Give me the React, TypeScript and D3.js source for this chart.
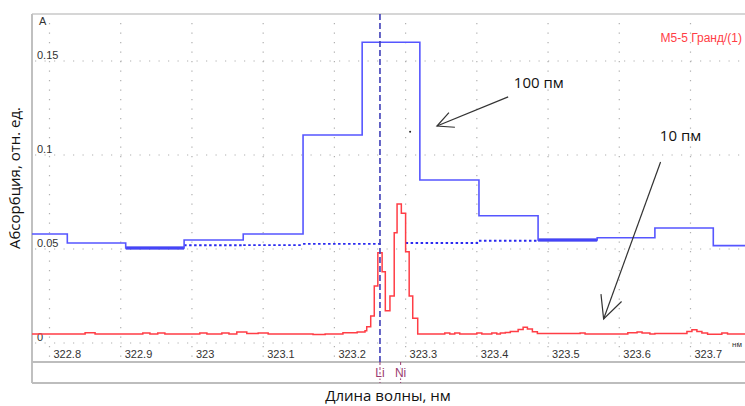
import * as d3 from "d3";

const W = 745;
const H = 406;
const frame = {left: 32, right: 745, top: 14, axis: 362, bottom: 383};

// оси
const xTicks = [322.8, 322.9, 323, 323.1, 323.2, 323.3, 323.4, 323.5, 323.6, 323.7];
const xTickLabels = ["322.8", "322.9", "323", "323.1", "323.2", "323.3", "323.4", "323.5", "323.6", "323.7"];
const yTicks = [0, 0.05, 0.1, 0.15];
const yTickLabels = ["0", "0.05", "0.1", "0.15"];

// 100 пм - широкие бины (границы и значения)
const wideEdges = [322.742, 322.825, 322.907, 322.989, 323.072, 323.156, 323.239, 323.320, 323.403, 323.486, 323.569, 323.650, 323.732, 323.815];
const wideValues = [0.058, 0.0532, 0.0505, 0.0548, 0.058, 0.1106, 0.160, 0.0867, 0.0677, 0.0548, 0.056, 0.0612, 0.0518];

// базовая линия (пунктир), null - разрыв
const baseEdges = [322.907, 322.989, 323.072, 323.156, 323.267, 323.300, 323.403, 323.486, 323.569];
const baseValues = [0.0505, 0.0520, 0.0521, 0.0527, null, 0.0532, 0.0544, 0.0548];

// 10 пм
const narrowNm = [322.775, 322.850, 322.864, 322.931, 322.941, 322.952, 322.962, 323.011, 323.021, 323.042, 323.052, 323.063, 323.077, 323.093, 323.107, 323.170, 323.187, 323.212, 323.232, 323.243, 323.2454, 323.251, 323.256, 323.261, 323.267, 323.2715, 323.278, 323.284, 323.288, 323.294, 323.300, 323.305, 323.310, 323.317, 323.355, 323.362, 323.369, 323.376, 323.400, 323.407, 323.421, 323.428, 323.433, 323.440, 323.447, 323.458, 323.465, 323.471, 323.478, 323.485, 323.545, 323.552, 323.612, 323.625, 323.632, 323.643, 323.650, 323.695, 323.702, 323.709, 323.716, 323.724, 323.744, 323.752, 323.790];
const narrowAbs = [0.0048, 0.0055, 0.0048, 0.0053, 0.0048, 0.0053, 0.0048, 0.0053, 0.0048, 0.0053, 0.0048, 0.0058, 0.0050, 0.0053, 0.0048, 0.0045, 0.0048, 0.0055, 0.0058, 0.0065, 0.0087, 0.0144, 0.0303, 0.0480, 0.0379, 0.0172, 0.0250, 0.0587, 0.0739, 0.0690, 0.0486, 0.0250, 0.0131, 0.0048, 0.0053, 0.0048, 0.0053, 0.0048, 0.0053, 0.0048, 0.0053, 0.0048, 0.0053, 0.0056, 0.0061, 0.0072, 0.0084, 0.0074, 0.0060, 0.0050, 0.0053, 0.0048, 0.0055, 0.0059, 0.0053, 0.0048, 0.0050, 0.0061, 0.0071, 0.0061, 0.0053, 0.0046, 0.0053, 0.0048, 0.0048];

// линии элементов
const lineNames = ["Li", "Ni"];
const lineNm = [323.264, 323.293];

// подписи со стрелками
const notes = [
    {text: "100 пм", at: [323.452, 0.1356], from: [323.444, 0.1309], to: [323.344, 0.1154], head: 18},
    {text: "10 пм", at: [323.657, 0.1074], from: [323.658, 0.0963], to: [323.578, 0.0128], head: 25},
];

const x = d3.scaleLinear().domain([322.8, 323.7]).range([49.5, 690.5]);
const y = d3.scaleLinear().domain([0, 0.15]).range([343, 61]);

const BLUE = "#5656ff";
const DARK_BLUE = "#2a2af0";
const RED = "#ff3d45";
const GRID = "#b0b0b0";
const TICK_FONT = "'Liberation Sans', Arial, sans-serif";
const TITLE_FONT = "'Open Sans', 'Noto Sans', sans-serif";

const stepLine = d3.line<[number, number]>()
    .x(d => x(d[0]))
    .y(d => y(d[1]))
    .curve(d3.curveStepAfter);

const widePoints: [number, number][] = wideValues.map((v, i) => [wideEdges[i], v] as [number, number])
    .concat([[wideEdges[wideEdges.length - 1], wideValues[wideValues.length - 1]]]);

const narrowPoints: [number, number][] = narrowNm.map((n, i) => [n, narrowAbs[i]] as [number, number]);

// значение широкой линии в точке
const wideAt = (nm: number) => {
    const i = d3.bisectRight(wideEdges, nm) - 1;
    return wideValues[Math.max(0, Math.min(wideValues.length - 1, i))];
};

const baseSegs = baseValues.map((v, i) => ({
    x0: baseEdges[i], x1: baseEdges[i + 1], v,
    overlap: v != null && Math.abs(wideAt((baseEdges[i] + baseEdges[i + 1]) / 2) - v) < 0.0008,
})).filter(s => s.v != null);

const arrowHead = (from: number[], to: number[], len: number) => {
    const tx = x(to[0]), ty = y(to[1]);
    const ang = Math.atan2(y(from[1]) - ty, x(from[0]) - tx);
    const a = 26 * Math.PI / 180;
    const p1 = [tx + len * Math.cos(ang - a), ty + len * Math.sin(ang - a)];
    const p2 = [tx + len * Math.cos(ang + a), ty + len * Math.sin(ang + a)];
    return `M${p1[0]},${p1[1]}L${tx},${ty}L${p2[0]},${p2[1]}`;
};

const App = () => {
    return <svg width={W} height={H} style={{position: "absolute", left: 0, top: 0, background: "#fff"}}>
        <defs>
            <clipPath id="plot">
                <rect x={frame.left} y={frame.top} width={frame.right - frame.left} height={frame.axis - frame.top}/>
            </clipPath>
        </defs>

        {/* сетка */}
        {xTicks.map(t => <line key={"gx" + t} x1={x(t)} x2={x(t)} y1={frame.top + 9} y2={frame.axis}
                               stroke={GRID} strokeWidth={1.2} strokeDasharray="1.2,8.3"/>)}
        {yTicks.map(t => <line key={"gy" + t} x1={frame.left + 3} x2={frame.right} y1={y(t)} y2={y(t)}
                               stroke={GRID} strokeWidth={1.2} strokeDasharray="1.2,8.3"/>)}

        {/* рамка */}
        <line x1={frame.left} x2={frame.right} y1={frame.top} y2={frame.top} stroke="#c8c8c8" strokeWidth={1.5}/>
        <line x1={frame.left} x2={frame.left} y1={frame.top} y2={frame.bottom} stroke="#c0c0c0" strokeWidth={2}/>
        <line x1={frame.left} x2={frame.right} y1={frame.axis} y2={frame.axis} stroke="#bdbdbd" strokeWidth={2}/>
        <line x1={frame.left} x2={frame.right} y1={frame.bottom} y2={frame.bottom} stroke="#bdbdbd" strokeWidth={2}/>

        {/* подписи осей */}
        {yTicks.map((t, i) => <text key={"ly" + t} x={37} y={y(t) - 2} fontSize={11} fill="#333"
                                    fontFamily={TICK_FONT}>{yTickLabels[i]}</text>)}
        <text x={39} y={25} fontSize={11} fill="#333" fontFamily={TICK_FONT}>A</text>
        {xTicks.map((t, i) => <text key={"lx" + t} x={x(t) + 4} y={358} fontSize={11} fill="#333"
                                    fontFamily={TICK_FONT}>{xTickLabels[i]}</text>)}
        <text x={732} y={347} fontSize={8} fill="#333" fontFamily={TICK_FONT}>нм</text>

        <g clipPath="url(#plot)">
            {/* базовая линия */}
            {baseSegs.map((s, i) => <line key={"b" + i} x1={x(s.x0)} x2={x(s.x1)} y1={y(s.v as number)} y2={y(s.v as number)}
                                          stroke={s.overlap ? "#1010e6" : DARK_BLUE} strokeWidth={s.overlap ? 3 : 1.8}
                                          strokeDasharray={s.overlap ? undefined : "2.5,2.5"}/>)}
            {/* 100 пм */}
            <path d={stepLine(widePoints) ?? ""} fill="none" stroke={BLUE} strokeWidth={1.6}/>
            {/* 10 пм */}
            <path d={stepLine(narrowPoints) ?? ""} fill="none" stroke={RED} strokeWidth={1.5}/>
        </g>

        {/* курсор на Li */}
        <line x1={x(lineNm[0])} x2={x(lineNm[0])} y1={frame.top} y2={frame.axis} stroke="#3f3fb8" strokeWidth={1.6}
              strokeDasharray="6,3"/>

        {/* метки элементов */}
        {lineNames.map((n, i) => <g key={n}>
            <line x1={x(lineNm[i])} x2={x(lineNm[i])} y1={frame.axis} y2={frame.bottom} stroke="#9a3a6e"
                  strokeWidth={1} strokeDasharray="3,2"/>
            <text x={x(lineNm[i])} y={377} textAnchor="middle" fontSize={12} fill="#9a3a6e"
                  fontFamily={TICK_FONT} stroke="#fff" strokeWidth={3} paintOrder="stroke">{n}</text>
        </g>)}

        {/* стрелки */}
        {notes.map(n => <g key={n.text}>
            <line x1={x(n.from[0])} y1={y(n.from[1])} x2={x(n.to[0])} y2={y(n.to[1])} stroke="#333" strokeWidth={1.2}/>
            <path d={arrowHead(n.from, n.to, n.head)} fill="none" stroke="#333" strokeWidth={1.2}/>
            <text x={x(n.at[0])} y={y(n.at[1])} fontSize={15} fill="#111" fontFamily={TITLE_FONT}>{n.text}</text>
        </g>)}
        <circle cx={x(323.3063)} cy={y(0.1124)} r={1} fill="#222"/>

        {/* название серии */}
        <text x={742} y={42} textAnchor="end" fontSize={12} fill={RED} fontFamily={TICK_FONT}>M5-5 Гранд/(1)</text>

        {/* заголовки */}
        <text transform="translate(20,178) rotate(-90)" textAnchor="middle" fontSize={15} fill="#111"
              fontFamily={TITLE_FONT}>Абсорбция, отн. ед.</text>
        <text x={388} y={401} textAnchor="middle" fontSize={15} fill="#111" fontFamily={TITLE_FONT}>Длина волны, нм</text>
    </svg>
}

export default App
